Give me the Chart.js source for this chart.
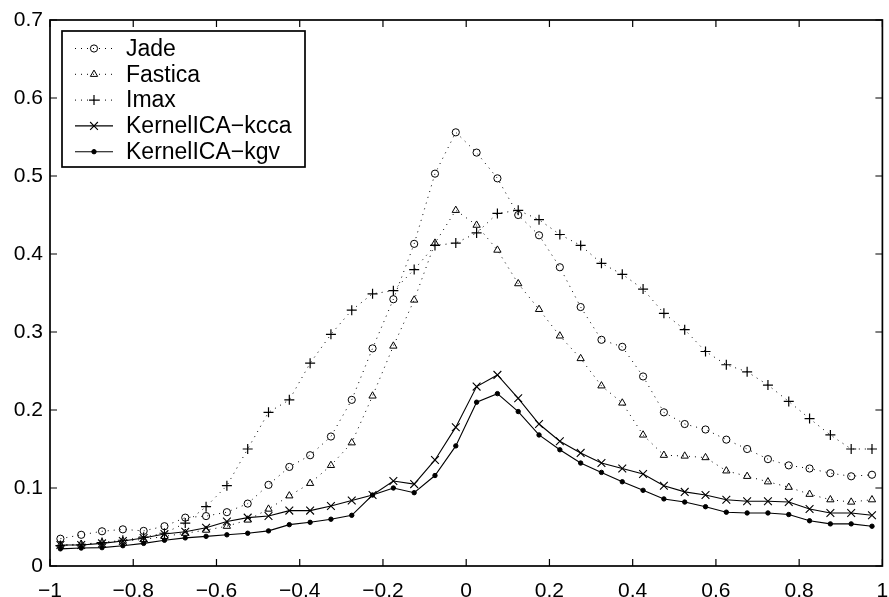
<!DOCTYPE html>
<html>
<head>
<meta charset="utf-8">
<script src="https://cdn.jsdelivr.net/npm/chart.js@4.4.1/dist/chart.umd.min.js"></script>
<style>
html,body{margin:0;padding:0;background:#fff;}
#wrap{width:889px;height:597px;position:relative;}
</style>
</head>
<body>
<div id="wrap"><canvas id="c" width="889" height="597"></canvas></div>
<script>
const xValues = [-0.975,-0.925,-0.875,-0.825,-0.775,-0.725,-0.675,-0.625,-0.575,-0.525,
  -0.475,-0.425,-0.375,-0.325,-0.275,-0.225,-0.175,-0.125,-0.075,-0.025,
  0.025,0.075,0.125,0.175,0.225,0.275,0.325,0.375,0.425,0.475,
  0.525,0.575,0.625,0.675,0.725,0.775,0.825,0.875,0.925,0.975];

const seriesNames = ["Jade","Fastica","Imax","KernelICA\u2212kcca","KernelICA\u2212kgv"];

const jade = [0.035,0.040,0.0445,0.047,0.045,0.051,0.062,0.064,0.069,0.080,
  0.104,0.127,0.142,0.166,0.213,0.279,0.342,0.413,0.503,0.556,
  0.530,0.497,0.450,0.424,0.383,0.332,0.290,0.281,0.243,0.197,
  0.182,0.175,0.162,0.150,0.137,0.129,0.125,0.119,0.115,0.117];

const fastica = [0.027,0.028,0.030,0.032,0.034,0.038,0.042,0.046,0.051,0.059,
  0.073,0.090,0.106,0.129,0.158,0.218,0.282,0.341,0.414,0.456,
  0.437,0.405,0.362,0.329,0.295,0.266,0.231,0.209,0.168,0.142,
  0.141,0.139,0.122,0.115,0.108,0.101,0.092,0.085,0.082,0.085];

const imax = [0.026,0.027,0.030,0.033,0.037,0.042,0.055,0.076,0.103,0.150,
  0.197,0.213,0.260,0.297,0.328,0.349,0.353,0.380,0.411,0.414,
  0.427,0.452,0.456,0.444,0.425,0.411,0.388,0.374,0.355,0.324,
  0.303,0.275,0.258,0.249,0.232,0.211,0.189,0.168,0.150,0.150];

const kcca = [0.027,0.027,0.029,0.032,0.036,0.041,0.044,0.049,0.057,0.062,
  0.064,0.071,0.071,0.077,0.084,0.091,0.109,0.105,0.136,0.178,
  0.230,0.245,0.215,0.182,0.160,0.145,0.132,0.125,0.118,0.103,
  0.095,0.091,0.085,0.083,0.083,0.082,0.073,0.068,0.068,0.065];

const kgv = [0.022,0.023,0.0235,0.026,0.029,0.033,0.036,0.038,0.040,0.042,
  0.045,0.053,0.056,0.060,0.065,0.091,0.100,0.094,0.116,0.154,
  0.210,0.221,0.198,0.168,0.149,0.132,0.120,0.108,0.097,0.086,
  0.082,0.076,0.069,0.068,0.068,0.066,0.058,0.054,0.054,0.051];

const xTickLabels = ["\u22121","\u22120.8","\u22120.6","\u22120.4","\u22120.2","0","0.2","0.4","0.6","0.8","1"];
const yTickLabels = ["0","0.1","0.2","0.3","0.4","0.5","0.6","0.7"];

const FONT = "'Liberation Sans', Arial, Helvetica, sans-serif";

function pts(arr){ return arr.map((v,i)=>({x:xValues[i], y:v})); }

const dotted = [1,5];

const datasets = [
  {label: seriesNames[0], data: pts(jade), borderColor:'#000', borderWidth:1, borderDash:dotted,
   pointStyle:'circle', pointRadius:3.6, pointBorderWidth:1, pointBorderColor:'#000', pointBackgroundColor:'rgba(0,0,0,0)'},
  {label: seriesNames[1], data: pts(fastica), borderColor:'#000', borderWidth:1, borderDash:dotted,
   pointStyle:'triangle', pointRadius:4.2, pointBorderWidth:1, pointBorderColor:'#000', pointBackgroundColor:'rgba(0,0,0,0)'},
  {label: seriesNames[2], data: pts(imax), borderColor:'#000', borderWidth:1, borderDash:dotted,
   pointStyle:'cross', pointRadius:5, pointBorderWidth:1.2, pointBorderColor:'#000', pointBackgroundColor:'rgba(0,0,0,0)'},
  {label: seriesNames[3], data: pts(kcca), borderColor:'#000', borderWidth:1.1, borderDash:[],
   pointStyle:'crossRot', pointRadius:5.5, pointBorderWidth:1.1, pointBorderColor:'#000', pointBackgroundColor:'rgba(0,0,0,0)'},
  {label: seriesNames[4], data: pts(kgv), borderColor:'#000', borderWidth:1.1, borderDash:[],
   pointStyle:'circle', pointRadius:2.2, pointBorderWidth:1, pointBorderColor:'#000', pointBackgroundColor:'#000'}
];

const matlabBox = {
  id:'matlabBox',
  afterDatasetsDraw(chart){
    const ctx = chart.ctx, a = chart.chartArea;
    const xs = chart.scales.x, ys = chart.scales.y;
    ctx.save();
    ctx.strokeStyle = '#000';
    ctx.lineWidth = 1.7;
    ctx.strokeRect(a.left, a.top, a.right - a.left, a.bottom - a.top);
    ctx.lineWidth = 1.2;
    const tl = 7;
    ctx.beginPath();
    xs.ticks.forEach(t=>{
      const px = xs.getPixelForValue(t.value);
      ctx.moveTo(px, a.bottom); ctx.lineTo(px, a.bottom - tl);
      ctx.moveTo(px, a.top); ctx.lineTo(px, a.top + tl);
    });
    ys.ticks.forEach(t=>{
      const py = ys.getPixelForValue(t.value);
      ctx.moveTo(a.left, py); ctx.lineTo(a.left + tl, py);
      ctx.moveTo(a.right, py); ctx.lineTo(a.right - tl, py);
    });
    ctx.stroke();

    // legend
    const lx = a.left + 12, ly = a.top + 11, lw = 243, lh = 136;
    ctx.fillStyle = '#fff';
    ctx.fillRect(lx, ly, lw, lh);
    ctx.lineWidth = 1.7;
    ctx.strokeRect(lx, ly, lw, lh);
    ctx.font = "23px " + FONT;
    ctx.textBaseline = 'middle';
    ctx.textAlign = 'left';
    chart.data.datasets.forEach((ds, i)=>{
      const cy = ly + 17.5 + i*25.8;
      ctx.save();
      ctx.strokeStyle = '#000';
      ctx.lineWidth = ds.borderWidth;
      ctx.setLineDash(ds.borderDash || []);
      ctx.beginPath();
      ctx.moveTo(lx + 13, cy); ctx.lineTo(lx + 51, cy);
      ctx.stroke();
      ctx.setLineDash([]);
      ctx.restore();
      ctx.save();
      ctx.strokeStyle = '#000';
      ctx.fillStyle = ds.pointBackgroundColor;
      ctx.lineWidth = ds.pointBorderWidth;
      Chart.helpers.drawPoint(ctx, {pointStyle: ds.pointStyle, radius: ds.pointRadius, rotation: 0, borderWidth: ds.pointBorderWidth}, lx + 32, cy);
      ctx.restore();
      ctx.fillStyle = '#000';
      ctx.fillText(ds.label, lx + 64, cy + 1);
    });
    ctx.restore();
  }
};

new Chart(document.getElementById('c'), {
  type: 'line',
  data: { datasets },
  options: {
    responsive: false,
    animation: false,
    devicePixelRatio: 1,
    layout: { padding: { top: 20, right: 3, left: 0, bottom: 0 } },
    plugins: { legend: { display: false }, tooltip: { enabled: false } },
    elements: { line: { tension: 0 } },
    scales: {
      x: {
        type: 'linear', min: -1, max: 1,
        ticks: { stepSize: 0.2, color: '#000', padding: 13, maxRotation: 0, autoSkip: false,
                 font: { family: FONT, size: 21 },
                 callback: (v, i) => xTickLabels[i] },
        grid: { display: false, drawTicks: false },
        border: { display: false },
        afterFit(s){ s.height = 31; s.paddingLeft = 0; s.paddingRight = 0; }
      },
      y: {
        type: 'linear', min: 0, max: 0.7,
        ticks: { stepSize: 0.1, color: '#000', padding: 7,
                 font: { family: FONT, size: 21 },
                 callback: (v, i) => yTickLabels[i] },
        grid: { display: false, drawTicks: false },
        border: { display: false },
        afterFit(s){ s.width = 50; s.paddingTop = 0; s.paddingBottom = 0; }
      }
    }
  },
  plugins: [matlabBox]
});
</script>
</body>
</html>
